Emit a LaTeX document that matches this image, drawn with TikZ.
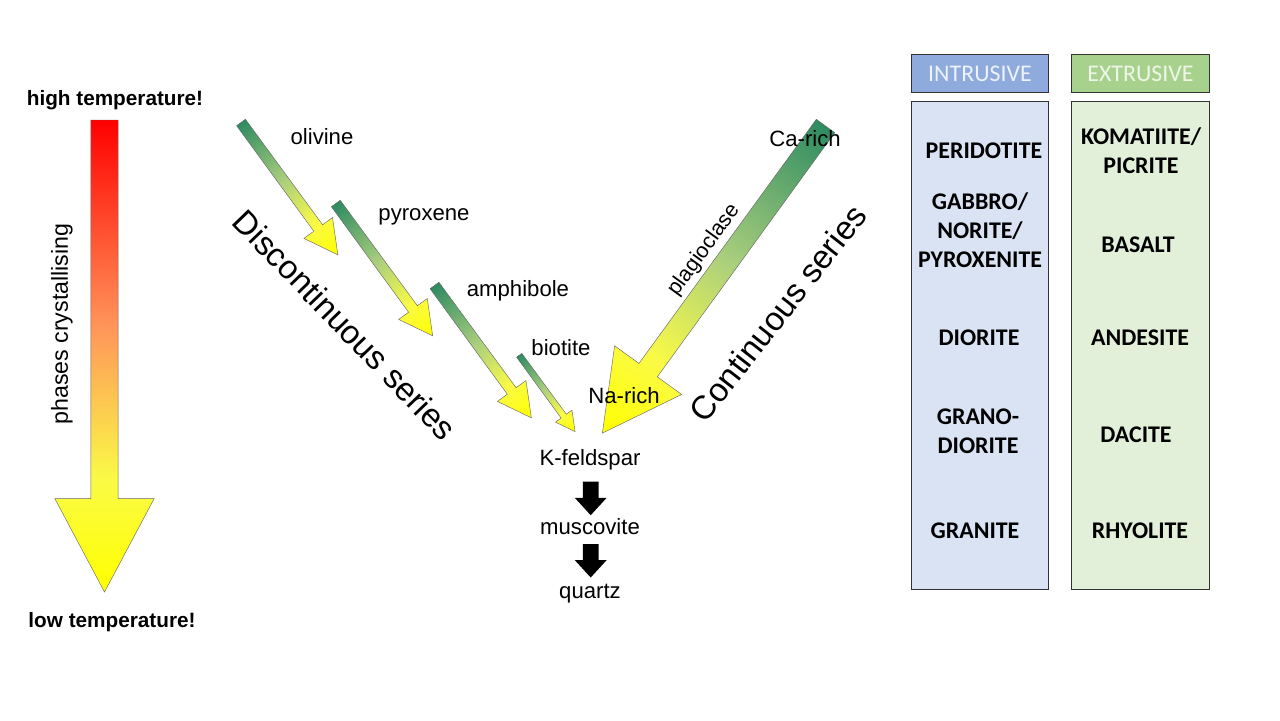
\documentclass[tikz,border=0pt]{standalone}
\usepackage{fontspec}
\setmainfont{Liberation Sans}
\newfontfamily\calibri{Carlito}
\usetikzlibrary{shapes.arrows}

\definecolor{introhead}{HTML}{8FAADC}
\definecolor{introbody}{HTML}{DAE3F3}
\definecolor{extrohead}{HTML}{A9D18E}
\definecolor{extrobody}{HTML}{E2F0D9}
\definecolor{seagreen}{RGB}{46,139,97}
\definecolor{palegreen}{RGB}{170,207,125}
\definecolor{paleyellow}{RGB}{250,250,70}
\definecolor{salmon}{RGB}{255,150,90}

\pgfdeclarehorizontalshading{greenfade}{100bp}{color(0bp)=(seagreen); color(25bp)=(seagreen);
  color(47bp)=(palegreen); color(63bp)=(paleyellow); color(75bp)=(yellow); color(100bp)=(yellow)}
\pgfdeclarehorizontalshading{redfade}{100bp}{color(0bp)=(red); color(25bp)=(red);
  color(47bp)=(salmon); color(63bp)=(paleyellow); color(75bp)=(yellow); color(100bp)=(yellow)}

\def\px{0.02cm}

\tikzset{
  turned/.style 2 args={transform canvas={rotate around={#1:(#2)}}},
  gradarrow/.style n args={3}{single arrow, draw=black!60, line width=0.25pt,
    anchor=tail, outer sep=0pt, inner xsep=0pt, inner ysep=#3*0.01cm, minimum height=#1*\px,
    single arrow head extend=(#2-#3)*0.01cm, single arrow tip angle=56},
  mineral/.style={font=\fontsize{12.6pt}{15pt}\selectfont, inner sep=0pt},
  series/.style={font=\fontsize{18.8pt}{23pt}\selectfont, inner sep=0pt},
  tempnote/.style={font=\fontsize{11.8pt}{14pt}\selectfont\bfseries, inner sep=0pt},
  headbox/.style={draw=black!80, line width=0.4pt, minimum width=137.5*\px, minimum height=38.5*\px,
    inner sep=0pt, text=white!85!introhead, font=\calibri\fontsize{13.6pt}{16pt}\selectfont},
  bodybox/.style={draw=black!80, line width=0.4pt, minimum width=137.5*\px, minimum height=488*\px, inner sep=0pt},
  rock/.style={align=center, inner sep=0pt, font=\calibri\bfseries\fontsize{13.6pt}{16.4pt}\selectfont},
  blackarrow/.style={single arrow, anchor=tail, fill=black, outer sep=0pt, inner xsep=0pt,
    inner ysep=7.5*\px, minimum height=33.5*\px, single arrow head extend=8*\px,
    single arrow tip angle=85, rotate=-90}
}

\begin{document}
\begin{tikzpicture}[x=\px, y=-\px]
  \useasboundingbox (0,0) rectangle (1280,720);

  % temperature arrow
  \path[turned={-90}{104.5,120}] node[gradarrow={472}{99}{27}, shade, shading=redfade] (cooling) at (104.5,120) {};
  \node[tempnote] (hightemp) at (115,100) {high temperature!};
  \node[tempnote] (lowtemp) at (112,622) {low temperature!};
  \node[mineral, font=\fontsize{13.2pt}{15pt}\selectfont, rotate=90] (phases) at (62,324) {phases crystallising};

  % discontinuous series
  \path[turned={-53.8}{241,122.5}] node[gradarrow={164}{35}{10.5}, shade, shading=greenfade] (olivinearrow) at (241,122.5) {};
  \path[turned={-53.8}{335.8,203.5}] node[gradarrow={164}{35}{10.5}, shade, shading=greenfade] (pyroxenearrow) at (335.8,203.5) {};
  \path[turned={-53.8}{434.5,285.5}] node[gradarrow={164}{35}{10.5}, shade, shading=greenfade] (amphibolearrow) at (434.5,285.5) {};
  \path[turned={-53.8}{519.2,355.3}] node[gradarrow={94.6}{20}{6}, shade, shading=greenfade] (biotitearrow) at (519.2,355.3) {};
  \node[mineral] (olivine) at (322,137) {olivine};
  \node[mineral] (pyroxene) at (424,217) {pyroxene};
  \node[mineral] (amphibole) at (518,291) {amphibole};
  \node[mineral] (biotite) at (561,348) {biotite};
  \node[series, rotate=-46] (discontinuous) at (345,325) {Discontinuous series};

  % continuous series
  \path[turned={-126}{825.5,126}] node[gradarrow={379.6}{82.4}{22.3}, shade, shading=greenfade] (plagarrow) at (825.5,126) {};
  \node[mineral] (carich) at (805,139) {Ca-rich};
  \node[mineral] (narich) at (624,396) {Na-rich};
  \node[mineral, font=\fontsize{12.2pt}{15pt}\selectfont, rotate=54] (plagioclase) at (704,250) {plagioclase};
  \node[series, rotate=52] (continuous) at (778,313) {Continuous series};

  % last phases
  \node[mineral] (kfeldspar) at (590,460) {K-feldspar};
  \node[blackarrow] (firstdown) at (590.7,481.7) {};
  \node[mineral] (muscovite) at (590,527) {muscovite};
  \node[blackarrow] (seconddown) at (590.7,544) {};
  \node[mineral] (quartz) at (590,594) {quartz};

  % rock columns
  \node[headbox, fill=introhead] (intrusive) at (980,73.5) {INTRUSIVE};
  \node[headbox, fill=extrohead, text=white!80!extrohead] (extrusive) at (1140.5,73.5) {EXTRUSIVE};
  \node[bodybox, fill=introbody] (introcol) at (980,345) {};
  \node[bodybox, fill=extrobody] (extrocol) at (1140.5,345) {};

  \node[rock] (peridotite) at (984,151) {PERIDOTITE};
  \node[rock] (gabbro) at (980,230) {GABBRO/\\NORITE/\\PYROXENITE};
  \node[rock] (diorite) at (979,338) {DIORITE};
  \node[rock] (granodiorite) at (978,431) {GRANO-\\DIORITE};
  \node[rock] (granite) at (975,531) {GRANITE};

  \node[rock] (komatiite) at (1141,151) {KOMATIITE/\\PICRITE};
  \node[rock] (basalt) at (1138,245) {BASALT};
  \node[rock] (andesite) at (1140,338) {ANDESITE};
  \node[rock] (dacite) at (1136,435) {DACITE};
  \node[rock] (rhyolite) at (1140,531) {RHYOLITE};
\end{tikzpicture}
\end{document}
